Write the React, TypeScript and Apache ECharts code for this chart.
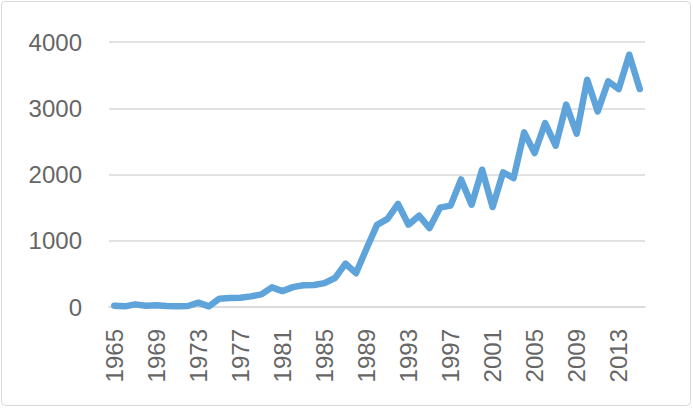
import React, { useEffect, useRef } from "react";
import * as echarts from "echarts";

const years: string[] = [
  "1965", "1966", "1967", "1968", "1969", "1970", "1971", "1972", "1973", "1974",
  "1975", "1976", "1977", "1978", "1979", "1980", "1981", "1982", "1983", "1984",
  "1985", "1986", "1987", "1988", "1989", "1990", "1991", "1992", "1993", "1994",
  "1995", "1996", "1997", "1998", "1999", "2000", "2001", "2002", "2003", "2004",
  "2005", "2006", "2007", "2008", "2009", "2010", "2011", "2012", "2013", "2014",
  "2015",
];

const values: number[] = [
  20, 10, 40, 20, 25, 15, 10, 15, 65, 10,
  125, 135, 140, 160, 190, 296, 240, 300, 328, 332,
  360, 437, 654, 510, 880, 1240, 1330, 1555, 1242, 1378,
  1192, 1500, 1530, 1925, 1544, 2072, 1509, 2032, 1947, 2636,
  2324, 2777, 2435, 3054, 2616, 3431, 2953, 3406, 3290, 3808,
  3290,
];

const yMin = 0;
const yMax = 4000;
const yStep = 1000;

export default function App() {
  const ref = useRef<HTMLDivElement>(null);

  useEffect(() => {
    if (!ref.current) return;
    const chart = echarts.init(ref.current, null, { renderer: "svg" });
    const font = "'Liberation Sans', Arial, sans-serif";
    chart.setOption({
      animation: false,
      backgroundColor: "#ffffff",
      graphic: [
        {
          type: "rect",
          shape: { x: 1.5, y: 1.5, width: 689, height: 404, r: 4 },
          style: { fill: "none", stroke: "#d9d9d9", lineWidth: 1 },
          silent: true,
        },
      ],
      grid: { left: 109, right: 48, top: 42, bottom: 101, containLabel: false },
      xAxis: {
        type: "category",
        data: years,
        boundaryGap: true,
        axisLine: { show: true, lineStyle: { color: "#d9d9d9", width: 1.5 } },
        axisTick: { show: false },
        axisLabel: {
          interval: 3,
          rotate: 90,
          margin: 22,
          color: "#666666",
          fontSize: 24,
          fontFamily: font,
        },
        splitLine: { show: false },
      },
      yAxis: {
        type: "value",
        min: yMin,
        max: yMax,
        interval: yStep,
        axisLine: { show: false },
        axisTick: { show: false },
        axisLabel: {
          margin: 27,
          color: "#666666",
          fontSize: 24,
          fontFamily: font,
          formatter: (v: number) => String(v),
        },
        splitLine: { show: true, lineStyle: { color: "#d9d9d9", width: 1.5 } },
      },
      series: [
        {
          type: "line",
          data: values,
          symbol: "none",
          smooth: false,
          lineStyle: { color: "#5ea3da", width: 6.5, cap: "round", join: "round" },
        },
      ],
    });
    return () => chart.dispose();
  }, []);

  return (
    <div
      ref={ref}
      style={{ position: "fixed", left: 0, top: 0, width: 693, height: 408 }}
    />
  );
}
